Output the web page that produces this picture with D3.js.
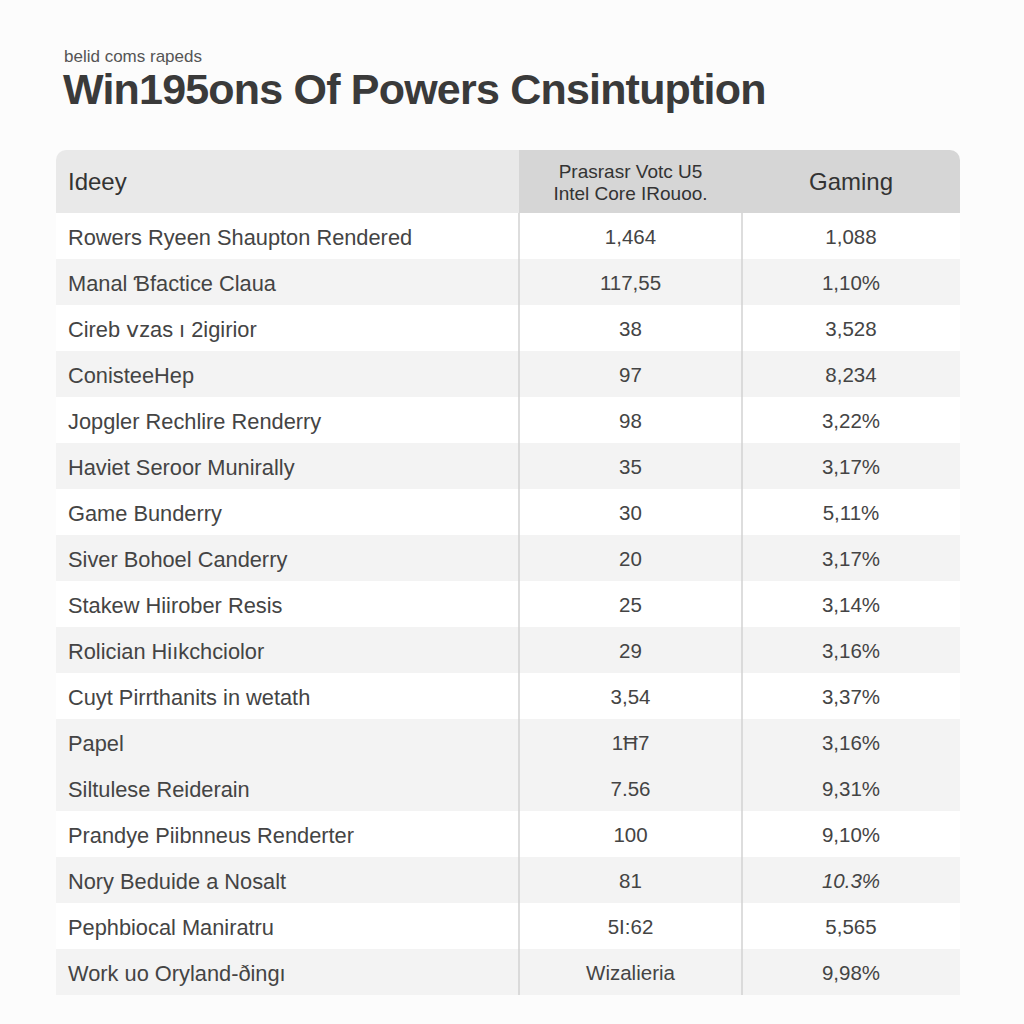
<!DOCTYPE html>
<html>
<head>
<meta charset="utf-8">
<script src="https://cdn.jsdelivr.net/npm/d3@7"></script>
<style>
  body { margin: 0; background: #fcfcfc; }
  svg { display: block; }
</style>
</head>
<body>
<svg id="drawing_table"></svg>
<script>
// data
const subtitle = "belid coms rapeds";
const title = "Win195ons Of Powers Cnsintuption";
const columns = ["Ideey", "Prasrasr Votc U5|Intel  Core IRouoo.", "Gaming"];
const categories = [
    "Rowers Ryeen Shaupton Rendered",
    "Manal Ɓfactice Claua",
    "Cireb ⅴzas ı 2igirior",
    "ConisteeHep",
    "Jopgler Rechlire Renderry",
    "Haviet Seroor Munirally",
    "Game Bunderry",
    "Siver Bohoel Canderry",
    "Stakew Hiirober Resis",
    "Rolician Hiıkchciolor",
    "Cuyt Pirrthanits in wetath",
    "Papel",
    "Siltulese Reiderain",
    "Prandye Piibnneus Renderter",
    "Nory Beduide a Nosalt",
    "Pephbiocal Maniratru",
    "Work uo Oryland-ðingı"
];
const cpuValues = ["1,464", "117,55", "38", "97", "98", "35", "30", "20", "25", "29",
    "3,54", "1Ħ7", "7.56", "100", "81", "5I:62", "Wizalieria"];
const gamingValues = ["1,088", "1,10%", "3,528", "8,234", "3,22%", "3,17%", "5,11%", "3,17%",
    "3,14%", "3,16%", "3,37%", "3,16%", "9,31%", "9,10%", "10.3%", "5,565", "9,98%"];

const width = 1024, height = 1024;
const margin = { left: 56, right: 64, top: 150 };
const headerH = 63;
const tableRight = width - margin.right;
const bodyTop = margin.top + headerH;
const bodyBottom = 995;

const svg = d3.select('#drawing_table')
    .attr('width', width)
    .attr('height', height)
    .style('font-family', '"Liberation Sans", Arial, sans-serif');

svg.append('rect').attr('width', width).attr('height', height).attr('fill', '#fcfcfc');

// title
svg.append('text')
    .attr('x', 64).attr('y', 62)
    .attr('font-size', 17).attr('fill', '#555')
    .text(subtitle);
svg.append('text')
    .attr('x', 63).attr('y', 104)
    .attr('font-size', 43).attr('font-weight', 'bold').attr('fill', '#3a3a3a')
    .attr('letter-spacing', -0.8)
    .text(title);

// column edges
const colEdges = [margin.left, 519, 742, tableRight];
const colCenter = i => (colEdges[i] + colEdges[i + 1]) / 2;

const yscale = d3.scaleBand()
    .domain(d3.range(categories.length))
    .range([bodyTop, bodyBottom]);

// header background with rounded top corners
const r = 10;
const headerPath = (x0, x1, roundL, roundR) => {
    const p = d3.path();
    p.moveTo(x0, bodyTop);
    if (roundL) { p.lineTo(x0, margin.top + r); p.arcTo(x0, margin.top, x0 + r, margin.top, r); }
    else p.lineTo(x0, margin.top);
    if (roundR) { p.lineTo(x1 - r, margin.top); p.arcTo(x1, margin.top, x1, margin.top + r, r); }
    else p.lineTo(x1, margin.top);
    p.lineTo(x1, bodyTop);
    p.closePath();
    return p.toString();
};
svg.append('path').attr('d', headerPath(colEdges[0], colEdges[1], true, false)).attr('fill', '#e9e9e9');
svg.append('path').attr('d', headerPath(colEdges[1], colEdges[3], false, true)).attr('fill', '#d6d6d6');

// row stripes (the reference keeps rows 11 and 12 both shaded)
const shaded = i => (i < 12 ? i % 2 === 1 : i % 2 === 0);
svg.append('g').selectAll('rect').data(categories).enter()
    .append('rect')
    .attr('x', colEdges[0])
    .attr('y', (d, i) => yscale(i))
    .attr('width', colEdges[3] - colEdges[0])
    .attr('height', yscale.bandwidth())
    .attr('fill', (d, i) => shaded(i) ? '#f3f3f3' : '#ffffff');

// column dividers
svg.append('g').selectAll('line').data([colEdges[1], colEdges[2]]).enter()
    .append('line')
    .attr('x1', d => d).attr('x2', d => d)
    .attr('y1', bodyTop).attr('y2', bodyBottom)
    .attr('stroke', '#d2d2d2').attr('stroke-width', 1.5);

// header text
const head = svg.append('g').attr('fill', '#333');
head.append('text')
    .attr('x', 68).attr('y', margin.top + headerH / 2)
    .attr('dy', '0.35em').attr('font-size', 24)
    .text(columns[0]);
head.append('text')
    .attr('text-anchor', 'middle')
    .attr('font-size', 19)
    .selectAll('tspan').data(columns[1].split('|')).enter()
    .append('tspan')
    .attr('x', colCenter(1))
    .attr('y', (d, i) => 178 + i * 22)
    .text(d => d);
head.append('text')
    .attr('x', colCenter(2)).attr('y', margin.top + headerH / 2)
    .attr('dy', '0.35em').attr('text-anchor', 'middle').attr('font-size', 24)
    .text(columns[2]);

// body text
const rowY = i => yscale(i) + yscale.bandwidth() / 2 + 1;
const rows = svg.append('g').attr('fill', '#444').attr('font-size', 20.5);
rows.selectAll('.cat').data(categories).enter()
    .append('text').attr('class', 'cat')
    .attr('x', 68)
    .attr('y', (d, i) => rowY(i))
    .attr('dy', '0.35em')
    .attr('font-size', 21.8)
    .text(d => d);
rows.selectAll('.cpu').data(cpuValues).enter()
    .append('text').attr('class', 'cpu')
    .attr('x', colCenter(1))
    .attr('y', (d, i) => rowY(i))
    .attr('dy', '0.35em').attr('text-anchor', 'middle')
    .text(d => d);
rows.selectAll('.gaming').data(gamingValues).enter()
    .append('text').attr('class', 'gaming')
    .attr('x', colCenter(2))
    .attr('y', (d, i) => rowY(i))
    .attr('dy', '0.35em').attr('text-anchor', 'middle')
    .attr('font-style', d => d === '10.3%' ? 'italic' : null)
    .text(d => d);
</script>
</body>
</html>
